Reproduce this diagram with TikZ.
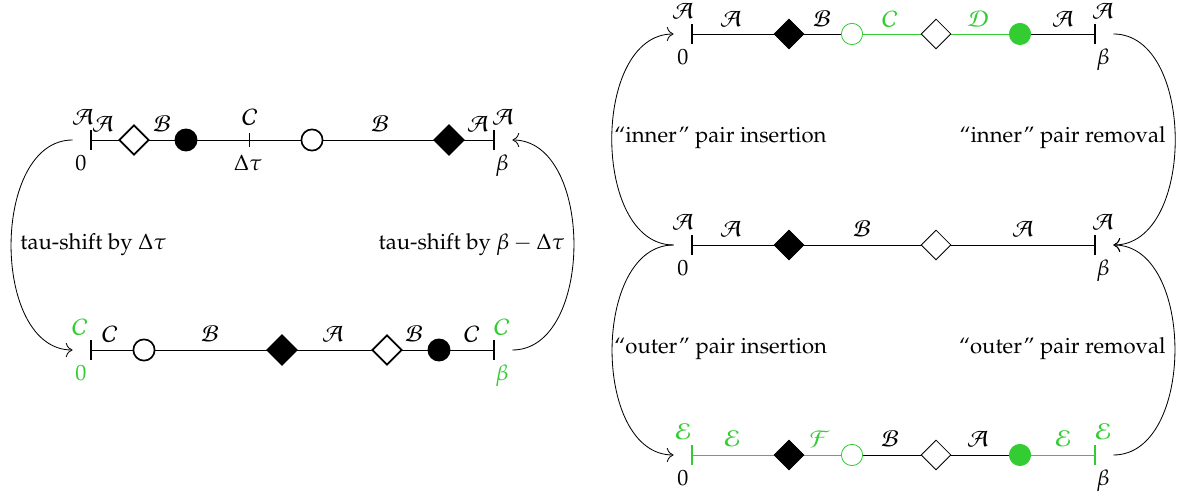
\documentclass[tikz,border=0pt]{standalone}
\usepackage[T1]{fontenc}
\usepackage{mathpazo}
\DeclareMathAlphabet{\mathcal}{OMS}{pxsy}{m}{n}
\usepackage{tikz}
\usetikzlibrary{shapes.geometric,arrows.meta}
\definecolor{flip}{HTML}{33CC33}

\tikzset{
  bnd/.style={minimum width=17.3pt, minimum height=8.8pt, inner sep=0pt},
  bar/.style={line width=1pt},
  opendia/.style={diamond, draw, fill=white, inner sep=0pt, minimum width=14.4pt, minimum height=14.4pt},
  fulldia/.style={opendia, fill=black},
  opencirc/.style={circle, draw, fill=white, inner sep=0pt, minimum size=10.2pt},
  fullcirc/.style={opencirc, fill=black},
  lab/.style={anchor=base, inner sep=0pt},
  move/.style={-{To[scale=1.3]}},
}

\begin{document}
\begin{tikzpicture}[x=0.48pt, y=-0.48pt, font=\fontsize{10.6pt}{13pt}\selectfont]
  \useasboundingbox (0,0) rectangle (1182,498);

  % tau shift: upper configuration
  \node[bnd] (ta) at (91,140) {};
  \node[bnd] (tb) at (494,140) {};
  \draw (ta.center) -- (tb.center);
  \draw[bar] (ta.north) -- (ta.south);
  \draw[bar] (tb.north) -- (tb.south);
  \node[opendia, thick] (td1) at (134,140) {};
  \node[fullcirc, thick] (tc1) at (186,140) {};
  \node[minimum height=6pt, inner sep=0pt] (tdt) at (249,140) {};
  \draw (tdt.north) -- (tdt.south);
  \node[opencirc, thick] (tc2) at (312,140) {};
  \node[fulldia, thick] (td2) at (449,140) {};
  \node[lab] (tla) at (83,125) {$\mathcal{A}$};
  \node[lab] (tlb) at (503,125) {$\mathcal{A}$};
  \node[lab] (ts1) at (103,132) {$\mathcal{A}$};
  \node[lab] (ts2) at (162,132) {$\mathcal{B}$};
  \node[lab] (ts3) at (250,125) {$\mathcal{C}$};
  \node[lab] (ts4) at (380,132) {$\mathcal{B}$};
  \node[lab] (ts5) at (478,132) {$\mathcal{A}$};
  \node[lab] (tz) at (81,171) {$0$};
  \node[lab] (tdtau) at (248,171) {$\Delta\tau$};
  \node[lab] (tbeta) at (502,171) {$\beta$};

  % tau shift: lower configuration
  \node[bnd] (ba) at (91,350) {};
  \node[bnd] (bb) at (494,350) {};
  \draw (ba.center) -- (bb.center);
  \draw[bar] (ba.north) -- (ba.south);
  \draw[bar] (bb.north) -- (bb.south);
  \node[opencirc, thick] (bc1) at (144,350) {};
  \node[fulldia, thick] (bd1) at (282,350) {};
  \node[opendia, thick] (bd2) at (387,350) {};
  \node[fullcirc, thick] (bc2) at (439,350) {};
  \node[lab, flip] (bla) at (80,335) {$\mathcal{C}$};
  \node[lab, flip] (blb) at (502,335) {$\mathcal{C}$};
  \node[lab] (bs1) at (110,342) {$\mathcal{C}$};
  \node[lab] (bs2) at (210,342) {$\mathcal{B}$};
  \node[lab] (bs3) at (333,342) {$\mathcal{A}$};
  \node[lab] (bs4) at (414,342) {$\mathcal{B}$};
  \node[lab] (bs5) at (472,342) {$\mathcal{C}$};
  \node[lab, flip] (bz) at (81,381) {$0$};
  \node[lab, flip] (bbeta) at (502,381) {$\beta$};

  \draw[move] (ta.west) to[out=180, in=180] (ba.west);
  \draw[move] (bb.east) to[out=0, in=0] (tb.east);
  \node[anchor=base west, inner sep=0pt] (shl) at (20,250) {tau-shift by $\Delta\tau$};
  \node[anchor=base east, inner sep=0pt] (shr) at (565,250) {tau-shift by $\beta-\Delta\tau$};

  % pair moves: inner pair
  \node[bnd] (ia) at (692,34) {};
  \node[bnd] (ib) at (1095,34) {};
  \draw (ia.center) -- (852,34);
  \draw[flip] (852,34) -- (1020,34);
  \draw (1020,34) -- (ib.center);
  \draw[bar] (ia.north) -- (ia.south);
  \draw[bar] (ib.north) -- (ib.south);
  \node[fulldia] (id1) at (789,34) {};
  \node[opencirc, draw=flip] (ic1) at (852,34) {};
  \node[opendia] (id2) at (936,34) {};
  \node[fullcirc, draw=flip, fill=flip] (ic2) at (1020,34) {};
  \node[lab] (ila) at (683,19) {$\mathcal{A}$};
  \node[lab] (ilb) at (1103,19) {$\mathcal{A}$};
  \node[lab] (is1) at (731,27) {$\mathcal{A}$};
  \node[lab] (is2) at (822,27) {$\mathcal{B}$};
  \node[lab, flip] (is3) at (890,27) {$\mathcal{C}$};
  \node[lab, flip] (is4) at (978,27) {$\mathcal{D}$};
  \node[lab] (is5) at (1063,27) {$\mathcal{A}$};
  \node[lab] (iz) at (683,65) {$0$};
  \node[lab] (ibeta) at (1103,65) {$\beta$};

  % pair moves: middle configuration
  \node[bnd] (ma) at (692,245) {};
  \node[bnd] (mb) at (1095,245) {};
  \draw (ma.center) -- (mb.center);
  \draw[bar] (ma.north) -- (ma.south);
  \draw[bar] (mb.north) -- (mb.south);
  \node[fulldia] (md1) at (789,245) {};
  \node[opendia] (md2) at (936,245) {};
  \node[lab] (mla) at (683,230) {$\mathcal{A}$};
  \node[lab] (mlb) at (1103,230) {$\mathcal{A}$};
  \node[lab] (ms1) at (731,237) {$\mathcal{A}$};
  \node[lab] (ms2) at (862,237) {$\mathcal{B}$};
  \node[lab] (ms3) at (1023,237) {$\mathcal{A}$};
  \node[lab] (mz) at (683,276) {$0$};
  \node[lab] (mbeta) at (1103,276) {$\beta$};

  % pair moves: outer pair
  \node[bnd] (oa) at (692,455) {};
  \node[bnd] (ob) at (1095,455) {};
  \draw[flip] (oa.center) -- (852,455);
  \draw (852,455) -- (1020,455);
  \draw[flip] (1020,455) -- (ob.center);
  \draw[bar, flip] (oa.north) -- (oa.south);
  \draw[bar, flip] (ob.north) -- (ob.south);
  \node[fulldia] (od1) at (789,455) {};
  \node[opencirc, draw=flip] (oc1) at (852,455) {};
  \node[opendia] (od2) at (936,455) {};
  \node[fullcirc, draw=flip, fill=flip] (oc2) at (1020,455) {};
  \node[lab, flip] (ola) at (683,440) {$\mathcal{E}$};
  \node[lab, flip] (olb) at (1103,440) {$\mathcal{E}$};
  \node[lab, flip] (os1) at (732,447) {$\mathcal{E}$};
  \node[lab, flip] (os2) at (820,447) {$\mathcal{F}$};
  \node[lab] (os3) at (890,447) {$\mathcal{B}$};
  \node[lab] (os4) at (978,447) {$\mathcal{A}$};
  \node[lab, flip] (os5) at (1063,447) {$\mathcal{E}$};
  \node[lab] (oz) at (683,486) {$0$};
  \node[lab] (obeta) at (1103,486) {$\beta$};

  \draw[move] (ma.west) to[out=180, in=180] (ia.west);
  \draw[move] (ma.west) to[out=180, in=180] (oa.west);
  \draw[move] (ib.east) to[out=0, in=0] (mb.east);
  \draw[move] (ob.east) to[out=0, in=0] (mb.east);
  \node[anchor=base west, inner sep=0pt] (ins1) at (614,143) {``inner'' pair insertion};
  \node[anchor=base east, inner sep=0pt] (rem1) at (1166,143) {``inner'' pair removal};
  \node[anchor=base west, inner sep=0pt] (ins2) at (614,354) {``outer'' pair insertion};
  \node[anchor=base east, inner sep=0pt] (rem2) at (1166,354) {``outer'' pair removal};
\end{tikzpicture}
\end{document}
